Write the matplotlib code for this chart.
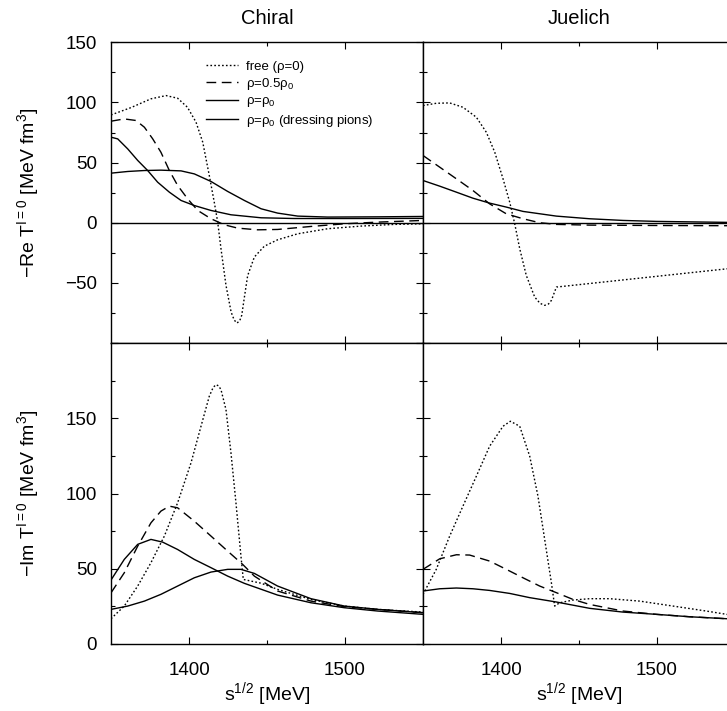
import matplotlib
matplotlib.use("Agg")
import matplotlib.pyplot as plt
from matplotlib.ticker import MultipleLocator, FixedLocator

plt.rcParams["font.family"] = ["Liberation Sans", "DejaVu Sans"]
plt.rcParams["mathtext.fontset"] = "custom"
plt.rcParams["mathtext.rm"] = "Liberation Sans"
plt.rcParams["mathtext.it"] = "Liberation Sans:italic"

# ---- data (sqrt(s) in MeV) ----
# Chiral, -Re T
re_ch_free_x = [1350, 1362.8, 1375.6, 1385.3, 1392.7, 1399, 1404.5, 1408.8, 1413, 1416.2, 1418.4,
                1420.5, 1423.7, 1427, 1429, 1430.8, 1432.5, 1433.8, 1435.5, 1437.6, 1441.9, 1448.3,
                1456.8, 1469.7, 1488.9, 1510.3, 1531.6, 1550]
re_ch_free_y = [89.6, 95.7, 103, 105.7, 103.5, 96, 83.6, 67, 39.3, 17, 0.5,
                -21.6, -52, -74.3, -81, -83.4, -81.5, -77, -62, -44, -28.5, -19.5,
                -14.2, -9.2, -5, -2.8, -1.4, -0.9]
re_ch_half_x = [1350, 1358.5, 1366, 1371.4, 1376.7, 1382, 1387.4, 1392.7, 1399.1, 1405.6, 1414.1,
                1422.6, 1431.2, 1444, 1456.8, 1478.2, 1499.6, 1521, 1550]
re_ch_half_y = [84.4, 86.3, 85, 79.4, 69.8, 58.6, 43.4, 31, 19.9, 10.2, 3.3,
                -1.7, -4.5, -5.9, -5.6, -3.1, -0.9, 0.5, 1.9]
re_ch_full_x = [1350, 1354.3, 1360.7, 1367.1, 1373.5, 1379.9, 1387.4, 1394.9, 1403.4, 1414.1,
                1426.9, 1446.2, 1467.5, 1499.6, 1550]
re_ch_full_y = [71.1, 69.7, 61.4, 51.8, 43.4, 33.7, 25.4, 18.5, 14.3, 10.2,
                6.6, 4.1, 3.5, 3.5, 3.6]
re_ch_dress_x = [1350, 1360.7, 1371.4, 1382, 1394.9, 1403.4, 1414.1, 1424.8, 1435.5, 1446.2,
                 1456.8, 1469.7, 1488.9, 1521, 1550]
re_ch_dress_y = [41.2, 42.6, 43.4, 43.7, 43.1, 40.6, 34.3, 26, 18.5, 11.6,
                 8, 5.5, 4.7, 4.9, 5.2]

# Juelich, -Re T
re_ju_free_x = [1350, 1358.5, 1367.1, 1375.6, 1384.2, 1390.6, 1396, 1401.3, 1405.6, 1408.8, 1412,
                1416.2, 1421.6, 1425, 1428, 1430.5, 1432.3, 1435.5, 1550]
re_ju_free_y = [97.4, 99.3, 99.6, 96, 87.7, 75.2, 58.6, 36.5, 17, -0.9, -21.6,
                -43.8, -61.8, -67, -68.7, -67.5, -64.6, -53.5, -37.6]
re_ju_half_x = [1350, 1360.7, 1371.4, 1382, 1392.7, 1403.4, 1414.1, 1424.8, 1435.5, 1456.8, 1499.6, 1550]
re_ju_half_y = [55.9, 46.2, 36.5, 26.8, 15.7, 7.4, 3.3, 0, -1.4, -2, -2.3, -2.5]
re_ju_full_x = [1350, 1360.7, 1371.4, 1382, 1392.7, 1403.4, 1414.1, 1435.5, 1456.8, 1478.2, 1499.6, 1550]
re_ju_full_y = [35.1, 30.4, 25.4, 20.4, 16.3, 13, 9.4, 5.5, 3.3, 1.9, 1.1, 0.2]

# Chiral, -Im T
im_ch_free_x = [1350, 1358.5, 1367.1, 1375.6, 1384.2, 1392.7, 1401.3, 1407.7, 1413, 1415.5, 1417.3,
                1419, 1420.5, 1423.7, 1426.9, 1430.1, 1433.3, 1434.8, 1446.2, 1456.8, 1478.2, 1499.6,
                1521, 1550]
im_ch_free_y = [16.8, 25.2, 38.5, 54, 71.7, 93.8, 120.4, 144.7, 164.6, 170.5, 172.3,
                171.5, 169, 155.8, 127, 93.8, 58.4, 42.9, 40.4, 36.3, 29.6, 25.2,
                23, 21.2]
im_ch_half_x = [1350, 1358.5, 1367.1, 1375.6, 1382, 1387.4, 1392.7, 1403.4, 1414.1, 1424.8, 1434.4,
                1441.9, 1456.8, 1478.2, 1499.6, 1521, 1550]
im_ch_half_y = [34, 47.3, 65, 80.5, 88.3, 91.6, 90.5, 81.6, 71.7, 61.7, 52.9,
                45.1, 35.2, 28.5, 24.8, 23, 20.8]
im_ch_full_x = [1350, 1358.5, 1367.1, 1375.6, 1383.1, 1392.7, 1403.4, 1414.1, 1424.8, 1435.5,
                1456.8, 1478.2, 1499.6, 1521, 1550]
im_ch_full_y = [42.5, 56.2, 66.2, 69.5, 67.7, 62.8, 56.2, 50.7, 45.1, 40.3,
                32.5, 27.4, 24.1, 21.9, 19.7]
im_ch_dress_x = [1350, 1360.7, 1371.4, 1382, 1392.7, 1403.4, 1414.1, 1424.8, 1433.3, 1441.9,
                 1456.8, 1478.2, 1499.6, 1521, 1550]
im_ch_dress_y = [23, 25.2, 28.5, 33, 38.5, 44, 47.8, 49.6, 49.6, 46.9,
                 38.5, 30.1, 25.2, 23, 20.8]

# Juelich, -Im T
im_ju_free_x = [1350, 1358.5, 1367.1, 1375.6, 1384.2, 1392.7, 1401.3, 1406, 1412, 1418.4, 1423.7,
                1428, 1432.3, 1434.4, 1437.6, 1446.2, 1456.8, 1469.7, 1488.9, 1510.3, 1531.6, 1550]
im_ju_free_y = [33, 49.6, 71.7, 91.6, 111.5, 131.4, 144.7, 148, 144.7, 124.8, 98.2,
                69.5, 40.7, 25.2, 27.4, 29.2, 30.1, 30.1, 28.5, 25.2, 21.9, 18.8]
im_ju_half_x = [1350, 1360.7, 1371.4, 1379.9, 1392.7, 1403.4, 1414.1, 1424.8, 1435.5, 1446.2,
                1456.8, 1478.2, 1499.6, 1521, 1550]
im_ju_half_y = [49.6, 56.6, 59.3, 59.1, 55.1, 49.6, 44, 38.5, 34.1, 29.6,
                26.3, 21.9, 19.7, 18.1, 16.5]
im_ju_full_x = [1350, 1360.7, 1371.4, 1382, 1392.7, 1405.6, 1418.4, 1435.5, 1456.8, 1478.2,
                1499.6, 1521, 1550]
im_ju_full_y = [35.2, 36.7, 37.2, 36.7, 35.6, 33.6, 30.8, 27.9, 23.7, 21.2,
                19.7, 18.1, 16.5]

legend_labels = ["free (ρ=0)", "ρ=0.5ρ$_0$", "ρ=ρ$_0$", "ρ=ρ$_0$ (dressing pions)"]
titles = ["Chiral", "Juelich"]

dot = dict(color="black", lw=1.0, ls=(0, (1.2, 1.6)))
dash = dict(color="black", lw=1.0, ls=(0, (7, 4)))
solid = dict(color="black", lw=1.0, ls="-")

fig = plt.figure(figsize=(7.27, 7.11), dpi=100)
W, H = 727, 711
def pos(x0, y0, x1, y1):
    return [x0 / W, 1 - y1 / H, (x1 - x0) / W, (y1 - y0) / H]

ax_tl = fig.add_axes(pos(111, 42.3, 423, 343))
ax_tr = fig.add_axes(pos(423, 42.3, 735, 343))
ax_bl = fig.add_axes(pos(111, 343, 423, 644))
ax_br = fig.add_axes(pos(423, 343, 735, 644))

ax_tl.plot(re_ch_free_x, re_ch_free_y, label=legend_labels[0], **dot)
ax_tl.plot(re_ch_half_x, re_ch_half_y, label=legend_labels[1], **dash)
ax_tl.plot(re_ch_full_x, re_ch_full_y, label=legend_labels[2], **solid)
ax_tl.plot(re_ch_dress_x, re_ch_dress_y, label=legend_labels[3], **solid)

ax_tr.plot(re_ju_free_x, re_ju_free_y, **dot)
ax_tr.plot(re_ju_half_x, re_ju_half_y, **dash)
ax_tr.plot(re_ju_full_x, re_ju_full_y, **solid)

ax_bl.plot(im_ch_free_x, im_ch_free_y, **dot)
ax_bl.plot(im_ch_half_x, im_ch_half_y, **dash)
ax_bl.plot(im_ch_full_x, im_ch_full_y, **solid)
ax_bl.plot(im_ch_dress_x, im_ch_dress_y, **solid)

ax_br.plot(im_ju_free_x, im_ju_free_y, **dot)
ax_br.plot(im_ju_half_x, im_ju_half_y, **dash)
ax_br.plot(im_ju_full_x, im_ju_full_y, **solid)

for ax in (ax_tl, ax_tr):
    ax.axhline(0, color="black", lw=1.0)
    ax.set_ylim(-100, 150)
for ax in (ax_bl, ax_br):
    ax.set_ylim(0, 200)

for ax in (ax_tl, ax_tr, ax_bl, ax_br):
    ax.set_xlim(1350, 1550)
    ax.yaxis.set_major_locator(MultipleLocator(50))
    ax.yaxis.set_minor_locator(MultipleLocator(25))
    ax.xaxis.set_major_locator(FixedLocator([1400, 1500]))
    ax.xaxis.set_minor_locator(FixedLocator([1450]))
    ax.tick_params(which="both", direction="in", top=True, right=True, labelsize=13.5)
    ax.tick_params(which="major", length=5, width=0.8)
    ax.tick_params(which="minor", length=3.2, width=0.8)
    ax.tick_params(axis="x", pad=13)
    ax.tick_params(axis="y", pad=10)
    for s in ax.spines.values():
        s.set_linewidth(1.0)

ax_tl.set_yticks([-100, -50, 0, 50, 100, 150], ["", "−50", "0", "50", "100", "150"])
ax_bl.set_yticks([0, 50, 100, 150, 200], ["0", "50", "100", "150", ""])
for ax in (ax_tr, ax_br):
    ax.tick_params(labelleft=False)
for ax in (ax_tl, ax_tr):
    ax.tick_params(labelbottom=False)

ax_tl.set_title(titles[0], fontsize=14.5, pad=13)
ax_tr.set_title(titles[1], fontsize=14.5, pad=13)

ax_tl.set_ylabel(r"$-$Re T$^{\mathrm{I=0}}$ [MeV fm$^{\mathrm{3}}$]", fontsize=14)
ax_bl.set_ylabel(r"$-$Im T$^{\mathrm{I=0}}$ [MeV fm$^{\mathrm{3}}$]", fontsize=14)
ax_tl.yaxis.set_label_coords(-0.225, 0.5)
ax_bl.yaxis.set_label_coords(-0.225, 0.5)

ax_bl.set_xlabel(r"s$^{\mathrm{1/2}}$ [MeV]", fontsize=14, labelpad=1)
ax_br.set_xlabel(r"s$^{\mathrm{1/2}}$ [MeV]", fontsize=14, labelpad=1)

ax_tl.legend(loc="upper left", bbox_to_anchor=(0.305, 0.94), frameon=False, fontsize=9.5,
             handlelength=2.4, handletextpad=0.6, labelspacing=0.25, borderpad=0, borderaxespad=0)

fig.savefig("out.png", dpi=100)
